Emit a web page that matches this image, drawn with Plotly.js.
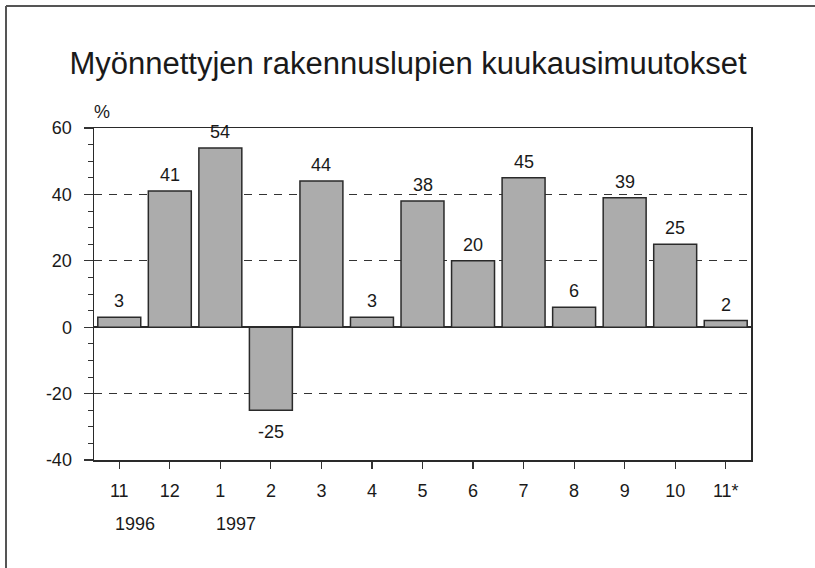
<!DOCTYPE html>
<html>
<head>
<meta charset="utf-8">
<script src="https://cdn.plot.ly/plotly-3.0.1.min.js"></script>
<style>
html,body{margin:0;padding:0;background:#fff;}
#chart{width:815px;height:568px;}
</style>
</head>
<body>
<div id="chart"></div>
<script>
// Data
const monthLabels = ["11","12","1","2","3","4","5","6","7","8","9","10","11*"];
const values = [3, 41, 54, -25, 44, 3, 38, 20, 45, 6, 39, 25, 2];
const yearLabels = ["1996", "1997"];
const yearPositions = [0, 2];
const yTicks = [-40, -20, 0, 20, 40, 60];
const yTickText = ["-40", "-20", "0", "20", "40", "60"];

const xIdx = monthLabels.map((_, i) => i);
const font = "Liberation Sans, Arial, Helvetica, sans-serif";
const txt = "#1a1a1a";

const trace = {
  type: "bar",
  x: xIdx,
  y: values,
  marker: {
    color: "#b8b8b8",
    line: {color: "#2a2a2a", width: 1.5},
    pattern: {shape: ".", bgcolor: "#cacaca", fgcolor: "#858585", size: 2, solidity: 0.5}
  },
  hoverinfo: "skip"
};

const annotations = [];
values.forEach((v, i) => {
  annotations.push({
    x: i, y: v, xref: "x", yref: "y",
    text: String(v), showarrow: false,
    yanchor: v >= 0 ? "bottom" : "top",
    yshift: v >= 0 ? 4 : -10,
    font: {family: font, size: 18, color: txt}
  });
});
yearLabels.forEach((t, k) => {
  annotations.push({
    x: yearPositions[k], y: 0, xref: "x", yref: "paper",
    text: t, showarrow: false, xanchor: "center", yanchor: "middle",
    xshift: 16, yshift: -64,
    font: {family: font, size: 18, color: txt}
  });
});
annotations.push({
  x: 0, y: 1, xref: "paper", yref: "paper", text: "%", showarrow: false,
  xanchor: "center", yanchor: "middle", xshift: 8, yshift: 16,
  font: {family: font, size: 18, color: txt}
});

const layout = {
  width: 815, height: 568,
  margin: {l: 94, r: 64, t: 128, b: 108},
  paper_bgcolor: "#fff", plot_bgcolor: "#fff",
  showlegend: false,
  bargap: 0.15,
  title: {
    text: "Myönnettyjen rakennuslupien kuukausimuutokset",
    font: {family: font, size: 31, color: txt},
    x: 408 / 815, xref: "container", xanchor: "center",
    y: 1 - 63/568, yref: "container", yanchor: "middle"
  },
  xaxis: {
    range: [-0.5, 12.5],
    tickmode: "array", tickvals: xIdx, ticktext: monthLabels,
    ticks: "outside", ticklen: 7, tickwidth: 1.2, tickcolor: "#333",
    ticklabelstandoff: 7,
    showline: true, linecolor: "#2a2a2a", linewidth: 1.5, mirror: true,
    showgrid: false, zeroline: false, fixedrange: true,
    tickfont: {family: font, size: 18, color: txt}
  },
  yaxis: {
    range: [-40, 60],
    tickmode: "array", tickvals: yTicks, ticktext: yTickText,
    ticks: "outside", ticklen: 9, tickwidth: 1.2, tickcolor: "#333",
    ticklabelstandoff: 8,
    minor: {dtick: 5, ticks: "outside", ticklen: 5, tickwidth: 1, tickcolor: "#333", showgrid: false},
    showline: true, linecolor: "#2a2a2a", linewidth: 1.5, mirror: true,
    showgrid: true, gridcolor: "#333", gridwidth: 1.3, griddash: "8px,7px",
    zeroline: true, zerolinecolor: "#2a2a2a", zerolinewidth: 1.5,
    fixedrange: true,
    tickfont: {family: font, size: 18, color: txt}
  },
  annotations: annotations,
  shapes: [
    {type: "line", xref: "paper", yref: "paper",
     x0: (6 - 94) / 657, x1: (815 - 94) / 657,
     y0: (460 - 6) / 332, y1: (460 - 6) / 332,
     line: {color: "#555", width: 2}, layer: "below"},
    {type: "line", xref: "paper", yref: "paper",
     x0: (6 - 94) / 657, x1: (6 - 94) / 657,
     y0: (460 - 6) / 332, y1: (460 - 568) / 332,
     line: {color: "#555", width: 2}, layer: "below"}
  ]
};

Plotly.newPlot("chart", [trace], layout, {staticPlot: true, displayModeBar: false});
</script>
</body>
</html>
